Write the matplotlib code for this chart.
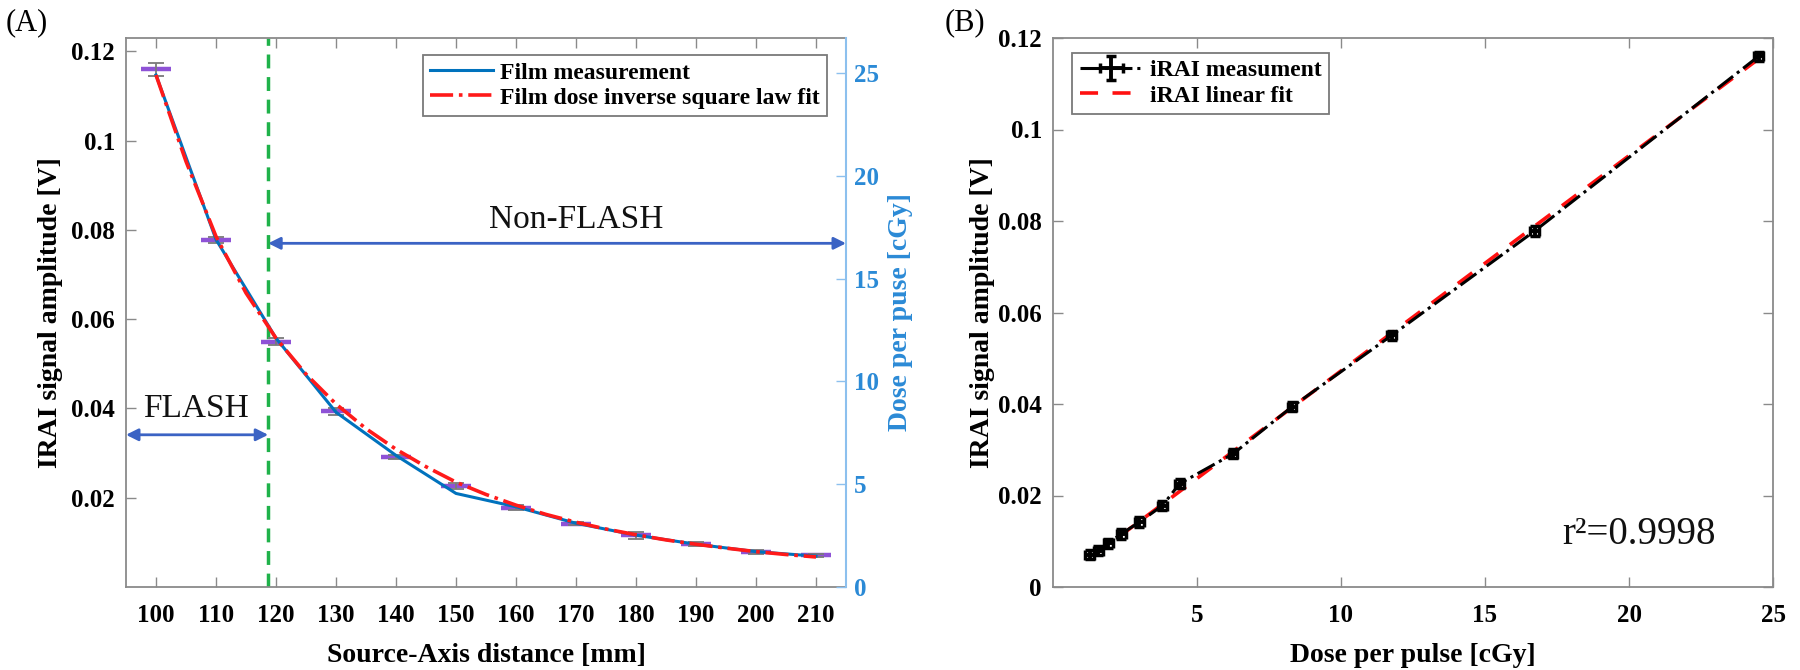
import matplotlib
matplotlib.use("Agg")
import matplotlib.pyplot as plt
from matplotlib.ticker import FuncFormatter

# ---------------- data ----------------
distance_mm = [100, 110, 120, 130, 140, 150, 160, 170, 180, 190, 200, 210]
irai_signal_V = [0.1160, 0.0778, 0.0550, 0.0394, 0.0291, 0.0226, 0.0178,
                 0.0142, 0.0116, 0.0096, 0.0079, 0.0071]
irai_signal_err_V = [0.0015, 0.0007, 0.0008, 0.0008, 0.0005, 0.0006, 0.0005,
                     0.0004, 0.0008, 0.0005, 0.0005, 0.0003]
distance_err_mm = [2.5] * 12

film_dose_cGy = [24.9, 16.9, 12.1, 8.5, 6.4, 4.55, 3.9, 3.1, 2.52, 2.08, 1.72, 1.50]

fit_distance_mm = [100, 105, 110, 115, 120, 125, 130, 135, 140, 145, 150, 155,
                   160, 165, 170, 175, 180, 185, 190, 195, 200, 205, 210]
fit_dose_cGy = [24.9, 20.7, 17.05, 14.3, 12.1, 10.35, 8.9, 7.7, 6.7, 5.85, 5.1,
                4.5, 3.98, 3.53, 3.15, 2.82, 2.54, 2.29, 2.08, 1.89, 1.72, 1.58, 1.46]

flash_boundary_mm = 118.7

dose_per_pulse_cGy = [24.5, 16.72, 11.76, 8.3, 6.25, 4.4, 3.8, 3.0, 2.37, 1.92, 1.57, 1.27]
dose_err_cGy = [0.15] * 12
signal_err_B_V = [0.0010] * 12

linfit_dose_cGy = [1.40, 24.45]
linfit_signal_V = [0.0068, 0.1152]

left_yticks = [0.02, 0.04, 0.06, 0.08, 0.10, 0.12]
right_yticks = [0, 5, 10, 15, 20, 25]
left_xticks = [100, 110, 120, 130, 140, 150, 160, 170, 180, 190, 200, 210]
b_xticks = [5, 10, 15, 20, 25]
b_yticks = [0, 0.02, 0.04, 0.06, 0.08, 0.10, 0.12]

# ---------------- style ----------------
plt.rcParams['font.family'] = ['Liberation Serif', 'DejaVu Serif']
plt.rcParams['font.weight'] = 'bold'
plt.rcParams['axes.labelweight'] = 'bold'

GRAY = '#8a8a8a'
LBLUE = '#8cc0ee'
TBLUE = '#2b8ad6'
ARROW = '#3b63c4'
fmt_g = FuncFormatter(lambda v, p: '%g' % round(v, 4))

fig = plt.figure(figsize=(18, 6.7), dpi=100)
pos_h = 549 / 670
pos_b = 1 - 587 / 670
ax1 = fig.add_axes([126 / 1800, pos_b, 720 / 1800, pos_h])
ax2 = ax1.twinx()
ax3 = fig.add_axes([1053 / 1800, pos_b, 720 / 1800, pos_h])

# ---------------- panel A ----------------
ax1.errorbar(distance_mm, irai_signal_V, xerr=distance_err_mm, fmt='none',
             ecolor='#8e52d6', elinewidth=3.2, capsize=0, zorder=2)
ax1.errorbar(distance_mm, irai_signal_V, yerr=irai_signal_err_V, fmt='none',
             ecolor='#7a7a7a', elinewidth=1.3, capsize=6, capthick=1.3, zorder=3)
ax1.axvline(flash_boundary_mm, color='#1fb24a', ls=(0, (4, 2.5)), lw=2.5, zorder=1)

ax1.annotate('', xy=(95, 0.0341), xytext=(flash_boundary_mm, 0.0341),
             arrowprops=dict(arrowstyle='<|-|>', color=ARROW, lw=2,
                             mutation_scale=18, shrinkA=0, shrinkB=0))
ax1.annotate('', xy=(flash_boundary_mm, 0.0770), xytext=(215, 0.0770),
             arrowprops=dict(arrowstyle='<|-|>', color=ARROW, lw=2,
                             mutation_scale=18, shrinkA=0, shrinkB=0))
ax1.text(106.7, 0.0400, 'FLASH', fontsize=24, fontweight='normal',
         ha='center', va='center', color='#111111')
ax1.text(170, 0.0822, 'Non-FLASH', fontsize=24, fontweight='normal',
         ha='center', va='center', color='#111111')

ax1.set_xlim(95, 215)
ax1.set_ylim(0, 0.1230)
ax1.set_xticks(left_xticks)
ax1.set_yticks(left_yticks)
ax1.yaxis.set_major_formatter(fmt_g)
ax1.tick_params(axis='x', direction='in', top=True, length=7, width=1,
                color=GRAY, labelsize=18, pad=12)
ax1.tick_params(axis='y', direction='in', left=True, right=False, length=7,
                width=1, color=GRAY, labelsize=18, pad=8)
for s in ['left', 'top', 'bottom']:
    ax1.spines[s].set_color(GRAY)
    ax1.spines[s].set_linewidth(1.3)
ax1.spines['right'].set_visible(False)
ax1.set_xlabel('Source-Axis distance [mm]', fontsize=20)
ax1.xaxis.set_label_coords(0.5, -0.102)
ax1.set_ylabel('IRAI signal amplitude [V]', fontsize=20)
ax1.yaxis.set_label_coords(-0.088, 0.5)

ax2.plot(distance_mm, film_dose_cGy, color='#0072BD', lw=2.2,
         label='Film measurement', zorder=3)
ax2.plot(fit_distance_mm, fit_dose_cGy, color='#ff1a1a', ls='-.', lw=2.6,
         label='Film dose inverse square law fit', zorder=4)
ax2.set_ylim(0, 26.7)
ax2.set_yticks(right_yticks)
ax2.tick_params(axis='y', direction='in', right=True, length=7, width=1,
                color=LBLUE, labelcolor=TBLUE, labelsize=18, pad=6)
for s in ['left', 'top', 'bottom']:
    ax2.spines[s].set_visible(False)
ax2.spines['right'].set_color(LBLUE)
ax2.spines['right'].set_linewidth(1.5)
ax2.set_ylabel('Dose per puse [cGy]', fontsize=20, color=TBLUE)
ax2.yaxis.set_label_coords(1.058, 0.5)
legA = ax2.legend(loc='upper right', bbox_to_anchor=(0.974, 0.969),
                  borderaxespad=0, fontsize=17, handlelength=2.7,
                  handletextpad=0.3, labelspacing=0.15, borderpad=0.3,
                  fancybox=False, framealpha=1, edgecolor='#7a7a7a')
legA.get_frame().set_linewidth(1.3)

# ---------------- panel B ----------------
meas = ax3.errorbar(dose_per_pulse_cGy, irai_signal_V, xerr=dose_err_cGy,
                    yerr=signal_err_B_V, fmt='-.', color='black', lw=2.2,
                    elinewidth=2.8, capsize=3.5, capthick=2.5, zorder=3)
fitl, = ax3.plot(linfit_dose_cGy, linfit_signal_V, color='#ff1010',
                 ls=(0, (5, 4)), lw=2.6, zorder=2)
ax3.text(20.35, 0.0114, 'r²=0.9998', fontsize=28, fontweight='normal',
         ha='center', va='center', color='#111111')

ax3.set_xlim(0, 25)
ax3.set_ylim(0, 0.12)
ax3.set_xticks(b_xticks)
ax3.set_yticks(b_yticks)
ax3.yaxis.set_major_formatter(fmt_g)
ax3.tick_params(axis='both', direction='in', top=True, right=True, length=7,
                width=1, color=GRAY, labelsize=18)
ax3.tick_params(axis='x', pad=12)
ax3.tick_params(axis='y', pad=8)
for s in ax3.spines.values():
    s.set_color(GRAY)
    s.set_linewidth(1.3)
ax3.set_xlabel('Dose per pulse [cGy]', fontsize=20)
ax3.xaxis.set_label_coords(0.5, -0.102)
ax3.set_ylabel('IRAI signal amplitude [V]', fontsize=20)
ax3.yaxis.set_label_coords(-0.080, 0.5)
legB = ax3.legend([meas, fitl], ['iRAI measument', 'iRAI linear fit'],
                  loc='upper left', bbox_to_anchor=(0.027, 0.973),
                  borderaxespad=0, fontsize=17, handlelength=2.7,
                  handletextpad=0.3, labelspacing=0.15, borderpad=0.3,
                  fancybox=False, framealpha=1, edgecolor='#7a7a7a')
legB.get_frame().set_linewidth(1.3)

fig.text(0.003, 0.966, '(A)', fontsize=22, fontweight='normal',
         ha='left', va='center')
fig.text(945 / 1800, 0.966, '(B)', fontsize=22, fontweight='normal',
         ha='left', va='center')

fig.savefig('out.png', dpi=100)
